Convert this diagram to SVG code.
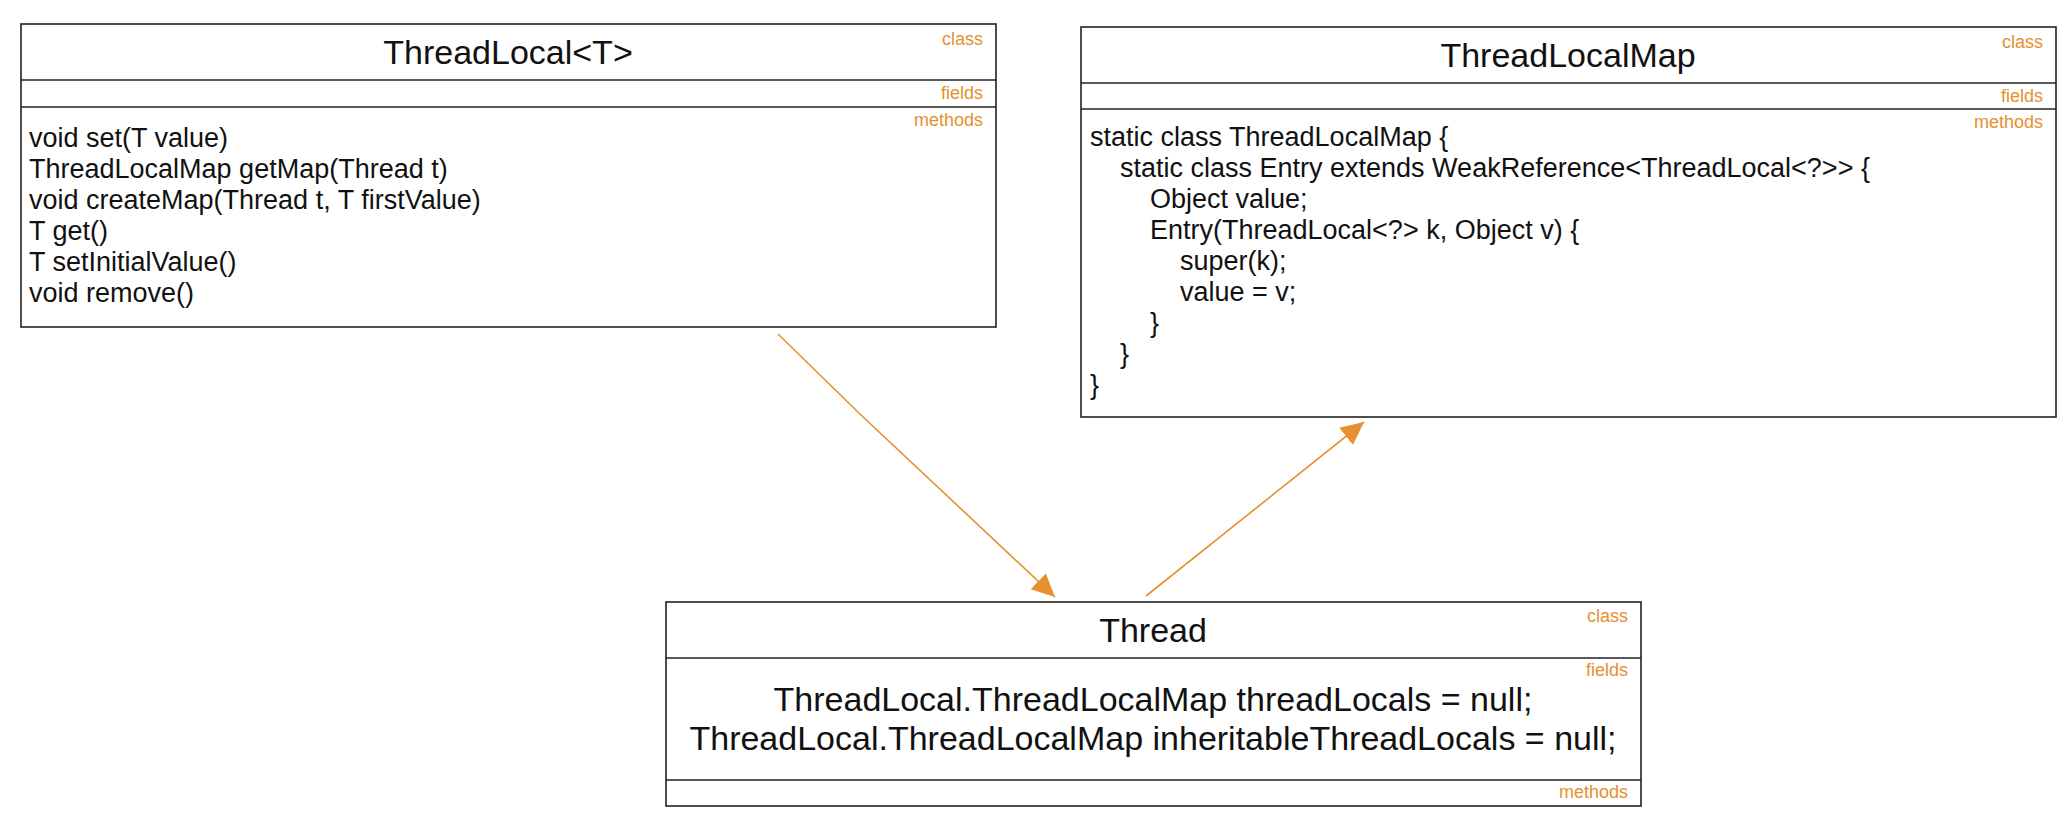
<svg xmlns="http://www.w3.org/2000/svg" width="2070" height="818" viewBox="0 0 2070 818">
<style>
.box{fill:#fff;stroke:#222;stroke-width:1.6}
.sep{stroke:#222;stroke-width:1.6}
.title{font-family:"Liberation Sans",Arial,sans-serif;font-size:34px;fill:#111;text-anchor:middle}
.tag{font-family:"Liberation Sans",Arial,sans-serif;font-size:18px;fill:#e6902f;text-anchor:end}
.code{font-family:"Liberation Sans",Arial,sans-serif;font-size:27px;fill:#111}
.field{font-family:"Liberation Sans",Arial,sans-serif;font-size:34px;fill:#111;text-anchor:middle}
.conn{fill:none;stroke:#e6902f;stroke-width:1.6}
</style>
<defs>
<marker id="arrow" markerUnits="userSpaceOnUse" markerWidth="24" markerHeight="24" refX="23" refY="11" orient="auto">
<path d="M0,0 L23,11 L0,22 Z" fill="#e6902f"/>
</marker>
</defs>
<g id="threadlocal">
<rect class="box" x="21" y="24" width="975" height="303"/>
<line class="sep" x1="21" y1="80" x2="996" y2="80"/>
<line class="sep" x1="21" y1="107" x2="996" y2="107"/>
<text class="title" x="508" y="64">ThreadLocal&lt;T&gt;</text>
<text class="tag" x="983" y="45">class</text>
<text class="tag" x="983" y="99">fields</text>
<text class="tag" x="983" y="126">methods</text>
<text class="code" x="29" y="147">void set(T value)</text>
<text class="code" x="29" y="178">ThreadLocalMap getMap(Thread t)</text>
<text class="code" x="29" y="209">void createMap(Thread t, T firstValue)</text>
<text class="code" x="29" y="240">T get()</text>
<text class="code" x="29" y="271">T setInitialValue()</text>
<text class="code" x="29" y="302">void remove()</text>
</g>
<g id="threadlocalmap">
<rect class="box" x="1081" y="27" width="975" height="390"/>
<line class="sep" x1="1081" y1="83" x2="2056" y2="83"/>
<line class="sep" x1="1081" y1="109" x2="2056" y2="109"/>
<text class="title" x="1568" y="67">ThreadLocalMap</text>
<text class="tag" x="2043" y="48">class</text>
<text class="tag" x="2043" y="102">fields</text>
<text class="tag" x="2043" y="128">methods</text>
<text class="code" x="1090" y="146">static class ThreadLocalMap {</text>
<text class="code" x="1120" y="177">static class Entry extends WeakReference&lt;ThreadLocal&lt;?&gt;&gt; {</text>
<text class="code" x="1150" y="208">Object value;</text>
<text class="code" x="1150" y="239">Entry(ThreadLocal&lt;?&gt; k, Object v) {</text>
<text class="code" x="1180" y="270">super(k);</text>
<text class="code" x="1180" y="301">value = v;</text>
<text class="code" x="1150" y="332">}</text>
<text class="code" x="1120" y="363">}</text>
<text class="code" x="1090" y="394">}</text>
</g>
<g id="thread">
<rect class="box" x="666" y="602" width="975" height="204"/>
<line class="sep" x1="666" y1="658" x2="1641" y2="658"/>
<line class="sep" x1="666" y1="780" x2="1641" y2="780"/>
<text class="title" x="1153" y="642">Thread</text>
<text class="tag" x="1628" y="622">class</text>
<text class="tag" x="1628" y="676">fields</text>
<text class="tag" x="1628" y="798">methods</text>
<text class="field" x="1153" y="711">ThreadLocal.ThreadLocalMap threadLocals = null;</text>
<text class="field" x="1153" y="750">ThreadLocal.ThreadLocalMap inheritableThreadLocals = null;</text>
</g>
<g id="connectors">
<polyline class="conn" points="778,334 862,416 1055,597" marker-end="url(#arrow)"/>
<line class="conn" x1="1146" y1="596" x2="1364" y2="422" marker-end="url(#arrow)"/>
</g>
</svg>
